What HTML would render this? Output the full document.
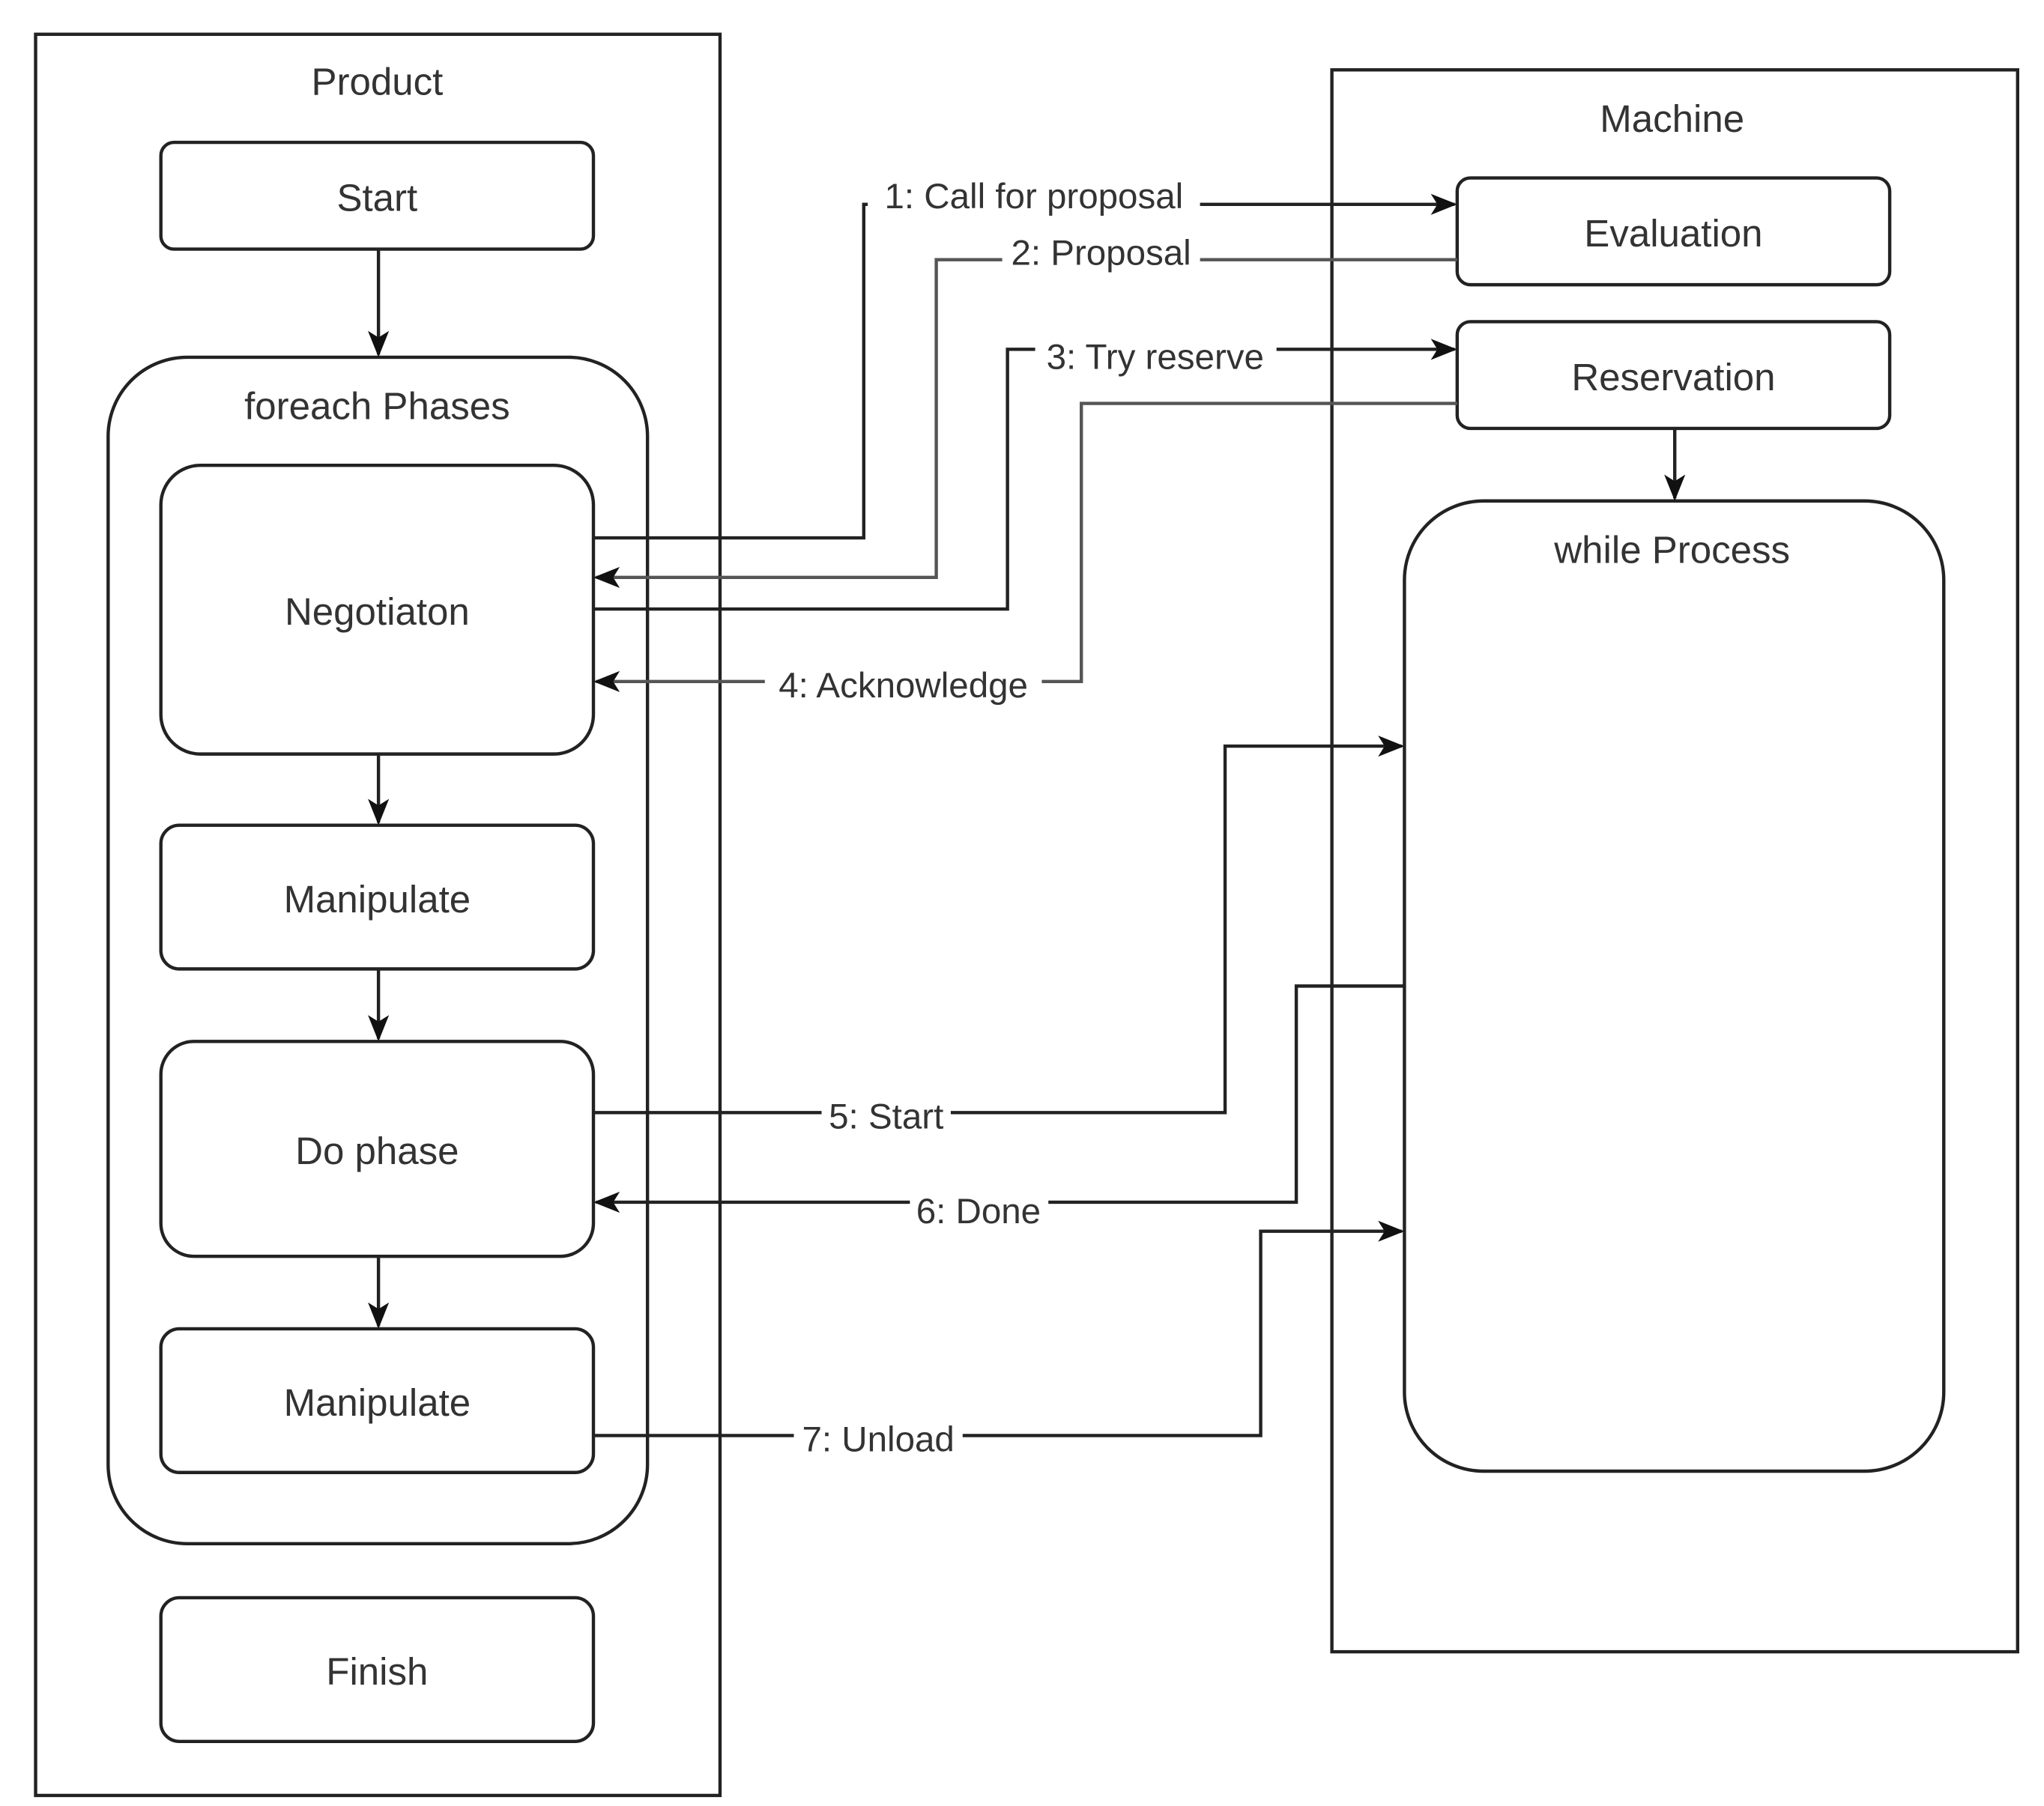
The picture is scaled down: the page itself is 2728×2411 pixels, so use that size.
<!DOCTYPE html>
<html><head><meta charset="utf-8"><style>html,body{margin:0;padding:0;background:#fff}svg{display:block}</style></head>
<body>
<svg width="2728" height="2411" viewBox="0 0 1550 1370" preserveAspectRatio="none" xmlns="http://www.w3.org/2000/svg" font-family="Liberation Sans, sans-serif" font-size="29" fill="#333">
<defs><marker id="a" markerWidth="10" markerHeight="10" refX="9" refY="5" orient="auto" markerUnits="userSpaceOnUse"><path d="M0,0 L18,5 L0,10 L4,5 Z" fill="#111" transform="scale(0.55,1)"/></marker>
<marker id="b" markerWidth="20" markerHeight="16" refX="18" refY="8" orient="auto" markerUnits="userSpaceOnUse"><path d="M0,0 L20,8 L0,16 L5,8 Z" fill="#111"/></marker></defs>
<g fill="none" stroke="#222" stroke-width="2.5">
<rect x="27" y="26" width="519" height="1336"/>
<rect x="1010" y="53" width="520" height="1200"/>
<rect x="122" y="108" width="328" height="81" rx="10"/>
<rect x="82" y="271" width="409" height="900" rx="60"/>
<rect x="122" y="353" width="328" height="219" rx="30"/>
<rect x="122" y="626" width="328" height="109" rx="14"/>
<rect x="122" y="790" width="328" height="163" rx="25"/>
<rect x="122" y="1008" width="328" height="109" rx="14"/>
<rect x="122" y="1212" width="328" height="109" rx="14"/>
<rect x="1105" y="135" width="328" height="81" rx="10"/>
<rect x="1105" y="244" width="328" height="81" rx="10"/>
<rect x="1065" y="380" width="409" height="736" rx="60"/>
<path d="M287 189V269" marker-end="url(#b)"/>
<path d="M287 572V624" marker-end="url(#b)"/>
<path d="M287 735V788" marker-end="url(#b)"/>
<path d="M287 953V1006" marker-end="url(#b)"/>
<path d="M1270 325V378" marker-end="url(#b)"/>
<path d="M450 408H655V155H1103" marker-end="url(#b)"/>
<path d="M1105 197H710V438H452" marker-end="url(#b)" stroke="#555"/>
<path d="M450 462H764V265H1103" marker-end="url(#b)"/>
<path d="M1105 306H820V517H452" marker-end="url(#b)" stroke="#555"/>
<path d="M450 844H929V566H1063" marker-end="url(#b)"/>
<path d="M1065 748H983V912H452" marker-end="url(#b)"/>
<path d="M450 1089H956V934H1063" marker-end="url(#b)"/>
</g>
<g text-anchor="middle">
<text x="286" y="72">Product</text>
<text x="1268" y="100">Machine</text>
<text x="286" y="160">Start</text>
<text x="286" y="318">foreach Phases</text>
<text x="286" y="474">Negotiaton</text>
<text x="286" y="692">Manipulate</text>
<text x="286" y="883">Do phase</text>
<text x="286" y="1074">Manipulate</text>
<text x="286" y="1278">Finish</text>
<text x="1269" y="187">Evaluation</text>
<text x="1269" y="296">Reservation</text>
<text x="1268" y="427">while Process</text>
</g>
<g text-anchor="middle" font-size="27">
<rect x="658" y="132" width="252" height="30" fill="#fff"/><text x="784" y="158">1: Call for proposal</text>
<rect x="760" y="176" width="150" height="30" fill="#fff"/><text x="835" y="201">2: Proposal</text>
<rect x="785" y="255" width="183" height="30" fill="#fff"/><text x="876" y="280">3: Try reserve</text>
<rect x="580" y="504" width="210" height="30" fill="#fff"/><text x="685" y="529">4: Acknowledge</text>
<rect x="623" y="831" width="98" height="30" fill="#fff"/><text x="672" y="856">5: Start</text>
<rect x="690" y="903" width="105" height="30" fill="#fff"/><text x="742" y="928">6: Done</text>
<rect x="602" y="1076" width="128" height="30" fill="#fff"/><text x="666" y="1101">7: Unload</text>
</g>
</svg>
</body></html>
